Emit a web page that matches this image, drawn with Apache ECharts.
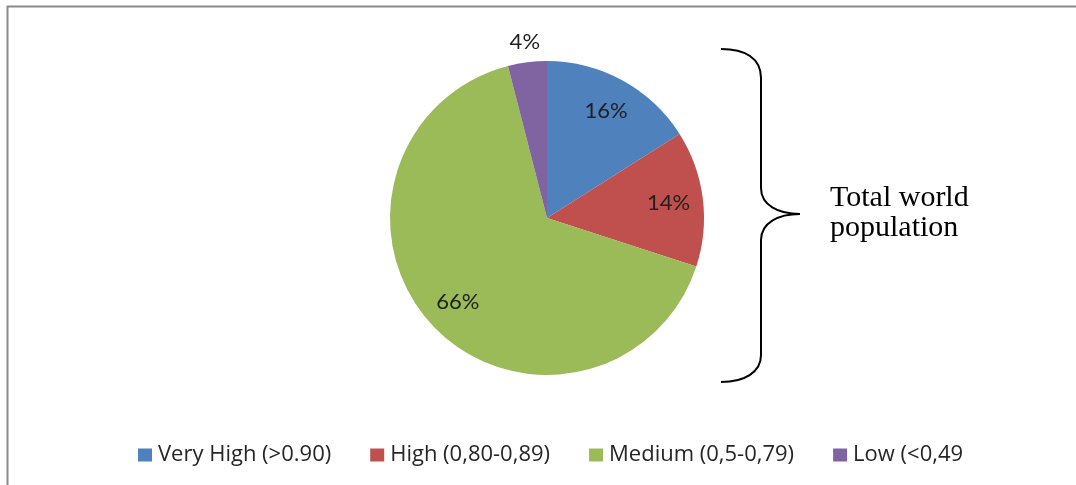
<!DOCTYPE html>
<html>
<head>
<meta charset="utf-8">
<script src="https://cdn.jsdelivr.net/npm/echarts@6/dist/echarts.min.js"></script>
<style>
  html, body { margin: 0; padding: 0; background: #fff; }
  #pie-chart { width: 1076px; height: 485px; }
</style>
</head>
<body>
<div id="pie-chart"></div>
<script>
  // HDI groups, share of total world population
  var categories = ['Very High (>0.90)', 'High (0,80-0,89)', 'Medium (0,5-0,79)', 'Low (<0,49']
  var shares = [16, 14, 66, 4]
  var colors = ['#4f81bd', '#c0504d', '#9bbb59', '#8064a2']
  var outsideLabels = [false, false, false, true] // which slice label sits outside the pie

  var center = [547, 218]
  var labelFont = 'Lato, "Open Sans", sans-serif'

  function pieData(show) {
    return categories.map(function (name, i) {
      return {
        name: name,
        value: shares[i],
        label: { show: show(i) }
      }
    })
  }

  // curly brace next to the pie
  var braceStyle = { stroke: '#000', lineWidth: 2, fill: null }
  function curve(x1, y1, cx1, cy1, cx2, cy2, x2, y2) {
    return {
      type: 'bezierCurve', silent: true, style: braceStyle,
      shape: { x1: x1, y1: y1, cpx1: cx1, cpy1: cy1, cpx2: cx2, cpy2: cy2, x2: x2, y2: y2 }
    }
  }
  function seg(x1, y1, x2, y2) {
    return { type: 'line', silent: true, style: braceStyle, shape: { x1: x1, y1: y1, x2: x2, y2: y2 } }
  }
  var brace = [
    curve(721, 49, 745, 49, 761, 58, 761, 78),
    seg(761, 78, 761, 188),
    curve(761, 188, 761, 205, 778, 214, 800, 214),
    curve(800, 214, 778, 214, 761, 223, 761, 240),
    seg(761, 240, 761, 355),
    curve(761, 355, 761, 372, 745, 382, 721, 382)
  ]

  var chart = echarts.init(document.getElementById('pie-chart'))
  var option = {
    animation: false,
    color: colors,
    legend: {
      top: 439,
      left: 133,
      itemWidth: 14,
      itemHeight: 13,
      itemGap: 39,
      icon: 'rect',
      selectedMode: false,
      data: categories.map(function (name, i) {
        return { name: name, itemStyle: { color: colors[i] } }
      }),
      textStyle: {
        fontFamily: '"Open Sans", sans-serif',
        fontSize: 22,
        color: '#262626',
        padding: [0, 0, 0, 1]
      }
    },
    graphic: [
      {
        type: 'polyline',
        silent: true,
        shape: { points: [[7.5, 485], [7.5, 6.5], [1076, 6.5]] },
        style: { stroke: '#8a8a8a', lineWidth: 2, fill: null }
      },
      {
        type: 'text',
        silent: true,
        left: 830,
        top: 183,
        style: {
          text: 'Total world\npopulation',
          font: '30px "Liberation Serif", "DejaVu Serif", serif',
          lineHeight: 30,
          fill: '#000'
        }
      }
    ].concat(brace),
    series: [
      {
        type: 'pie',
        center: center,
        radius: 157,
        silent: true,
        label: { show: false },
        labelLine: { show: false },
        itemStyle: { borderWidth: 0 },
        data: pieData(function () { return false })
      },
      {
        // transparent ring, only used to place the inside labels further out
        type: 'pie',
        center: center,
        radius: [82, 157],
        silent: true,
        itemStyle: { color: 'transparent' },
        labelLine: { show: false },
        label: {
          position: 'inside',
          formatter: '{c}%',
          fontFamily: labelFont,
          fontSize: 22,
          color: '#1f1f1f'
        },
        data: pieData(function (i) { return !outsideLabels[i] })
      },
      {
        type: 'pie',
        center: center,
        radius: [166, 182],
        silent: true,
        itemStyle: { color: 'transparent' },
        labelLine: { show: false },
        label: {
          position: 'inside',
          formatter: '{c}%',
          fontFamily: labelFont,
          fontSize: 22,
          color: '#1f1f1f'
        },
        data: pieData(function (i) { return outsideLabels[i] })
      }
    ]
  }
  chart.setOption(option)
</script>
</body>
</html>
